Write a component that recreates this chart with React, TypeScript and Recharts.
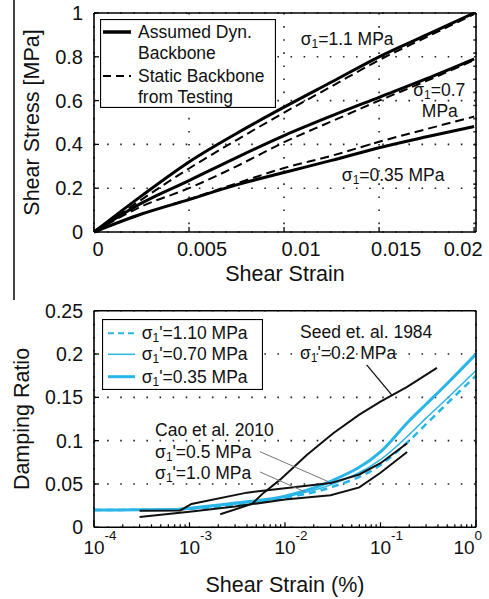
import React from 'react';
import { LineChart, Line, XAxis, YAxis, CartesianGrid, ReferenceDot, ReferenceLine, Legend } from 'recharts';

const FONT = '"Liberation Sans", Arial, Helvetica, sans-serif';
const INK = '#111';
const BLUE = '#29b5e8';

// ---------------- top chart data (shear strain vs shear stress, MPa) ----------------
const strainPts = [0, 0.0025, 0.005, 0.0075, 0.01, 0.0125, 0.015, 0.0175, 0.02];
const dynBackbone110 = [0, 0.165, 0.32, 0.45, 0.57, 0.685, 0.8, 0.9, 1.0];
const staticBackbone110 = [0, 0.148, 0.29, 0.42, 0.545, 0.665, 0.785, 0.89, 0.995];
const dynBackbone070 = [0, 0.132, 0.235, 0.34, 0.44, 0.53, 0.615, 0.7, 0.79];
const staticBackbone070 = [0, 0.117, 0.2, 0.3, 0.41, 0.505, 0.6, 0.69, 0.785];
const dynBackbone035 = [0, 0.082, 0.148, 0.215, 0.272, 0.327, 0.385, 0.435, 0.482];
const staticBackbone035 = [0, 0.082, 0.15, 0.222, 0.292, 0.348, 0.412, 0.47, 0.527];

const topXTicks = [0, 0.005, 0.01, 0.015, 0.02];
const topXTickLabels = ['0', '0.005', '0.01', '0.015', '0.02'];
const topYTicks = [0, 0.2, 0.4, 0.6, 0.8, 1];
const topYTickLabels = ['0', '0.2', '0.4', '0.6', '0.8', '1'];
const topLegendLines = [['Assumed Dyn.', 'Backbone'], ['Static Backbone', 'from Testing']];
const topNotes = [
  { x: 0.01088, y: 0.881, sigma: true, text: '=1.1 MPa' },
  { x: 0.0168, y: 0.65, sigma: true, text: '=0.7' },
  { x: 0.01725, y: 0.551, sigma: false, text: 'MPa' },
  { x: 0.01304, y: 0.262, sigma: true, text: '=0.35 MPa' },
];

// ---------------- bottom chart data (shear strain % vs damping ratio) ----------------
const blueStrain = [1e-4, 3e-4, 7e-4, 1e-3, 3e-3, 1e-2, 3e-2, 0.1, 0.2, 0.3, 0.5, 1];
const damping035 = [0.02, 0.0202, 0.0205, 0.022, 0.028, 0.036, 0.053, 0.087, 0.123, 0.142, 0.166, 0.2];
const damping070 = [0.02, 0.0202, 0.0205, 0.0215, 0.027, 0.035, 0.049, 0.078, 0.107, 0.126, 0.149, 0.181];
const damping110 = [0.02, 0.0202, 0.0205, 0.0213, 0.026, 0.034, 0.046, 0.072, 0.1, 0.119, 0.143, 0.175];

const caoStrainA = [3e-4, 8e-4, 1.05e-3, 4e-3, 1e-2, 0.03, 0.06, 0.1, 0.19];
const caoDampA = [0.019, 0.0195, 0.027, 0.04, 0.045, 0.051, 0.061, 0.074, 0.097];
const caoStrainB = [3e-4, 1e-3, 3e-3, 1e-2, 0.03, 0.06, 0.1, 0.19];
const caoDampB = [0.012, 0.018, 0.024, 0.032, 0.037, 0.046, 0.063, 0.087];
const seedStrain = [2.1e-3, 4.5e-3, 6e-3, 8.9e-3, 0.0169, 0.032, 0.06, 0.1, 0.19, 0.39];
const seedDamp = [0.015, 0.027, 0.04, 0.055, 0.0835, 0.1085, 0.13, 0.145, 0.162, 0.184];

const dampXTicks = [1e-4, 1e-3, 1e-2, 1e-1, 1];
const dampXExponents = ['-4', '-3', '-2', '-1', '0'];
const minorMultipliers = [2, 3, 4, 5, 6, 7, 8, 9];
const dampXAllTicks = [
  ...dampXTicks,
  ...dampXTicks.slice(0, 4).flatMap((d) => minorMultipliers.map((m) => d * m)),
].sort((a, b) => a - b);
const dampYTicks = [0, 0.05, 0.1, 0.15, 0.2, 0.25];
const dampYTickLabels = ['0', '0.05', '0.1', '0.15', '0.2', '0.25'];
const dampLegendLabels = ["'=1.10 MPa", "'=0.70 MPa", "'=0.35 MPa"];
const bottomNotes = [
  { x: 0.01436, y: 0.2259, sigma: false, text: 'Seed et. al. 1984' },
  { x: 0.01436, y: 0.2009, sigma: true, text: "'=0.2 MPa" },
  { x: 4.36e-4, y: 0.1124, sigma: false, text: 'Cao et al. 2010' },
  { x: 4.36e-4, y: 0.0873, sigma: true, text: "'=0.5 MPa" },
  { x: 4.36e-4, y: 0.0624, sigma: true, text: "'=1.0 MPa" },
];
const leaderSeed = [{ x: 0.0716, y: 0.1874 }, { x: 0.131, y: 0.1528 }];
const leaderCao05 = [{ x: 5.47e-3, y: 0.0873 }, { x: 0.0284, y: 0.0527 }];
const leaderCao10 = [{ x: 5.47e-3, y: 0.0639 }, { x: 0.0162, y: 0.0408 }];

const xy = (xs: number[], ys: number[]) => xs.map((x, i) => ({ x, y: ys[i] }));

// style-only constants
const TOP_X_LABEL_SHIFT = [4, 13, 17, 17, -11];
const AXIS_LINE = { stroke: '#000', strokeWidth: 1.6 };

function SigmaText({ x, y, rest, fs = 17.5 }: any) {
  return (
    <text x={x} y={y} fontFamily={FONT} fontSize={fs} fill={INK} dominantBaseline="central">
      σ
      <tspan fontSize={fs * 0.68} dy={5}>1</tspan>
      <tspan dy={-5}>{rest}</tspan>
    </text>
  );
}

function noteContent(n: any) {
  return (lp: any) => {
    const vb = lp.viewBox || {};
    return n.sigma ? (
      <SigmaText x={vb.x} y={vb.y} rest={n.text} />
    ) : (
      <text x={vb.x} y={vb.y} fontFamily={FONT} fontSize={17.5} fill={INK} dominantBaseline="central">
        {n.text}
      </text>
    );
  };
}

// ---------- tick renderers ----------
function TopXTick(p: any) {
  const { x, y, payload } = p;
  const i = topXTicks.findIndex((t) => Math.abs(t - payload.value) < 1e-9);
  return (
    <g>
      <line x1={x} x2={x} y1={y} y2={y - 5} stroke="#000" strokeWidth={1.3} />
      <text x={x + (TOP_X_LABEL_SHIFT[i] || 0)} y={y + 17} textAnchor="middle" dominantBaseline="central" fontFamily={FONT} fontSize={20} fill={INK}>
        {topXTickLabels[i]}
      </text>
    </g>
  );
}
function LeftYTick(labels: string[], ticks: number[], fs: number) {
  return (p: any) => {
    const { x, y, payload } = p;
    const i = ticks.findIndex((t) => Math.abs(t - payload.value) < 1e-9);
    return (
      <g>
        <line x1={x} x2={x + 5} y1={y} y2={y} stroke="#000" strokeWidth={1.3} />
        <text x={x - 11} y={y} textAnchor="end" dominantBaseline="central" fontFamily={FONT} fontSize={fs} fill={INK}>
          {labels[i]}
        </text>
      </g>
    );
  };
}
function RightYTick(p: any) {
  return <line x1={p.x} x2={p.x - 5} y1={p.y} y2={p.y} stroke="#000" strokeWidth={1.3} />;
}
function TopEdgeTick(len: (v: number) => number) {
  return (p: any) => <line x1={p.x} x2={p.x} y1={p.y} y2={p.y + len(p.payload.value)} stroke="#000" strokeWidth={1.2} />;
}
const majorIndex = (v: number) => dampXTicks.findIndex((t) => Math.abs(Math.log10(t) - Math.log10(v)) < 1e-6);
function DampXTick(p: any) {
  const { x, y, payload } = p;
  const i = majorIndex(payload.value);
  const major = i >= 0;
  const sx = i === dampXTicks.length - 1 ? -12 : 0;
  return (
    <g>
      <line x1={x} x2={x} y1={y} y2={y - (major ? 5 : 3)} stroke="#000" strokeWidth={1.2} />
      {major && (
        <text x={x + sx} y={y + 20.5} textAnchor="middle" dominantBaseline="central" fontFamily={FONT} fontSize={19} fill={INK}>
          10
        </text>
      )}
      {major && (
        <text x={x + sx + 10.5} y={y + 8.5} textAnchor="start" dominantBaseline="central" fontFamily={FONT} fontSize={13.5} fill={INK}>
          {dampXExponents[i]}
        </text>
      )}
    </g>
  );
}

function axisTitle(text: string, dx: number | null, dy: number | null, vertical: boolean) {
  return (lp: any) => {
    const vb = lp.viewBox || {};
    const cx = dx === null ? vb.x + vb.width / 2 : vb.x + dx;
    const cy = dy === null ? vb.y + vb.height / 2 : vb.y + dy;
    return (
      <text
        x={cx}
        y={cy}
        textAnchor="middle"
        dominantBaseline="central"
        fontFamily={FONT}
        fontSize={21.5}
        fill={INK}
        transform={vertical ? `rotate(-90, ${cx}, ${cy})` : undefined}
      >
        {text}
      </text>
    );
  };
}

function TopLegend() {
  const t = { fontFamily: FONT, fontSize: 17.5, fill: INK, dominantBaseline: 'central' as const };
  return (
    <svg width={176} height={89} style={{ display: 'block' }}>
      <rect x={0.5} y={0.5} width={175} height={88} fill="#fff" stroke="#000" strokeWidth={1.2} />
      <line x1={3} x2={31} y1={13} y2={13} stroke="#000" strokeWidth={3.5} />
      <text x={38} y={13} {...t}>{topLegendLines[0][0]}</text>
      <text x={38} y={34} {...t}>{topLegendLines[0][1]}</text>
      <line x1={3} x2={31} y1={57} y2={57} stroke="#000" strokeWidth={2} strokeDasharray="8 5" />
      <text x={38} y={57} {...t}>{topLegendLines[1][0]}</text>
      <text x={38} y={78} {...t}>{topLegendLines[1][1]}</text>
    </svg>
  );
}
function BottomLegend() {
  const rows = [14.3, 35.3, 57.7];
  const styles = [
    { strokeWidth: 2, strokeDasharray: '6 4' },
    { strokeWidth: 1.5 },
    { strokeWidth: 3 },
  ];
  return (
    <svg width={161} height={71} style={{ display: 'block' }}>
      <rect x={0.5} y={0.5} width={160} height={70} fill="#fff" stroke="#000" strokeWidth={1.2} />
      {rows.map((ry, k) => (
        <g key={k}>
          <line x1={6} x2={33} y1={ry} y2={ry} stroke={BLUE} {...styles[k]} />
          <SigmaText x={39.7} y={ry} rest={dampLegendLabels[k]} />
        </g>
      ))}
    </svg>
  );
}

const gridStyle = { stroke: '#222', strokeDasharray: '1.6 11.5', strokeWidth: 1.6 };

export default function App() {
  return (
    <div style={{ position: 'absolute', left: 0, top: 0, width: 489, height: 599, background: '#fff', overflow: 'hidden' }}>
      <div style={{ position: 'absolute', left: 13, top: 0, width: 1.5, height: 300, background: '#444' }} />

      <div style={{ position: 'absolute', left: 0, top: 0 }}>
        <LineChart width={489} height={300} margin={{ top: 12, right: 12, bottom: 0, left: 0 }}>
          <CartesianGrid {...gridStyle} fill="none" />
          <XAxis
            type="number"
            dataKey="x"
            domain={[0, 0.0201]}
            allowDataOverflow
            ticks={topXTicks}
            interval={0}
            height={68}
            tickSize={0}
            tickMargin={0}
            tickLine={false}
            axisLine={AXIS_LINE}
            tick={TopXTick}
            label={{ content: axisTitle('Shear Strain', null, 42, false) }}
          />
          <XAxis
            xAxisId="top"
            orientation="top"
            type="number"
            domain={[0, 0.0201]}
            allowDataOverflow
            ticks={topXTicks}
            interval={0}
            height={1}
            tickSize={0}
            tickMargin={0}
            tickLine={false}
            axisLine={AXIS_LINE}
            tick={TopEdgeTick(() => 5)}
          />
          <YAxis
            type="number"
            domain={[0, 1]}
            ticks={topYTicks}
            interval={0}
            width={94}
            tickSize={0}
            tickMargin={0}
            tickLine={false}
            axisLine={AXIS_LINE}
            tick={LeftYTick(topYTickLabels, topYTicks, 20)}
            label={{ content: axisTitle('Shear Stress [MPa]', 32, null, true) }}
          />
          <YAxis
            yAxisId="right"
            orientation="right"
            type="number"
            domain={[0, 1]}
            ticks={topYTicks}
            interval={0}
            width={1}
            tickSize={0}
            tickMargin={0}
            tickLine={false}
            axisLine={AXIS_LINE}
            tick={RightYTick}
          />
          <Line data={xy(strainPts, staticBackbone110)} dataKey="y" type="monotone" dot={false} stroke="#000" strokeWidth={2} strokeDasharray="9 5" isAnimationActive={false} />
          <Line data={xy(strainPts, staticBackbone070)} dataKey="y" type="monotone" dot={false} stroke="#000" strokeWidth={2} strokeDasharray="9 5" isAnimationActive={false} />
          <Line data={xy(strainPts, staticBackbone035)} dataKey="y" type="monotone" dot={false} stroke="#000" strokeWidth={2} strokeDasharray="9 5" isAnimationActive={false} />
          <Line data={xy(strainPts, dynBackbone110)} dataKey="y" type="monotone" dot={false} stroke="#000" strokeWidth={3} isAnimationActive={false} />
          <Line data={xy(strainPts, dynBackbone070)} dataKey="y" type="monotone" dot={false} stroke="#000" strokeWidth={3} isAnimationActive={false} />
          <Line data={xy(strainPts, dynBackbone035)} dataKey="y" type="monotone" dot={false} stroke="#000" strokeWidth={3} isAnimationActive={false} />
          {topNotes.map((n, k) => (
            <ReferenceDot key={k} x={n.x} y={n.y} r={0} fill="none" stroke="none" label={{ content: noteContent(n) }} />
          ))}
          <Legend
            layout="vertical"
            align="center"
            verticalAlign="middle"
            content={() => <TopLegend />}
            wrapperStyle={{ position: 'absolute', left: 100, top: 19, width: 176, height: 89, margin: 0, padding: 0 }}
          />
        </LineChart>
      </div>

      <div style={{ position: 'absolute', left: 0, top: 300 }}>
        <LineChart width={489} height={299} margin={{ top: 9.7, right: 12, bottom: 0, left: 0 }}>
          <XAxis xAxisId="grid" hide type="number" scale="log" domain={[1e-4, 1]} allowDataOverflow ticks={dampXTicks} interval={0} />
          <CartesianGrid {...gridStyle} fill="none" xAxisId="grid" />
          <XAxis
            type="number"
            dataKey="x"
            scale="log"
            domain={[1e-4, 1]}
            allowDataOverflow
            ticks={dampXAllTicks}
            interval={0}
            height={71.7}
            tickSize={0}
            tickMargin={0}
            tickLine={false}
            axisLine={AXIS_LINE}
            tick={DampXTick}
            label={{ content: axisTitle('Shear Strain (%)', null, 57.7, false) }}
          />
          <XAxis
            xAxisId="top"
            orientation="top"
            type="number"
            scale="log"
            domain={[1e-4, 1]}
            allowDataOverflow
            ticks={dampXAllTicks}
            interval={0}
            height={1}
            tickSize={0}
            tickMargin={0}
            tickLine={false}
            axisLine={AXIS_LINE}
            tick={TopEdgeTick((v) => (majorIndex(v) >= 0 ? 5 : 3))}
          />
          <YAxis
            type="number"
            domain={[0, 0.25]}
            ticks={dampYTicks}
            interval={0}
            width={94}
            tickSize={0}
            tickMargin={0}
            tickLine={false}
            axisLine={AXIS_LINE}
            tick={LeftYTick(dampYTickLabels, dampYTicks, 19.5)}
            label={{ content: axisTitle('Damping Ratio', 22, null, true) }}
          />
          <YAxis
            yAxisId="right"
            orientation="right"
            type="number"
            domain={[0, 0.25]}
            ticks={dampYTicks}
            interval={0}
            width={1}
            tickSize={0}
            tickMargin={0}
            tickLine={false}
            axisLine={AXIS_LINE}
            tick={RightYTick}
          />
          <Line data={xy(blueStrain, damping110)} dataKey="y" type="monotone" dot={false} stroke={BLUE} strokeWidth={2.5} strokeDasharray="7 5" isAnimationActive={false} />
          <Line data={xy(blueStrain, damping070)} dataKey="y" type="monotone" dot={false} stroke={BLUE} strokeWidth={1.5} isAnimationActive={false} />
          <Line data={xy(blueStrain, damping035)} dataKey="y" type="monotone" dot={false} stroke={BLUE} strokeWidth={3} isAnimationActive={false} />
          <Line data={xy(caoStrainA, caoDampA)} dataKey="y" type="linear" dot={false} stroke={INK} strokeWidth={2} isAnimationActive={false} />
          <Line data={xy(caoStrainB, caoDampB)} dataKey="y" type="linear" dot={false} stroke={INK} strokeWidth={2} isAnimationActive={false} />
          <Line data={xy(seedStrain, seedDamp)} dataKey="y" type="linear" dot={false} stroke={INK} strokeWidth={2} isAnimationActive={false} />
          <ReferenceLine segment={leaderSeed} stroke={INK} strokeWidth={1.3} />
          <ReferenceLine segment={leaderCao05} stroke="#777" strokeWidth={1} />
          <ReferenceLine segment={leaderCao10} stroke="#777" strokeWidth={1} />
          {bottomNotes.map((n, k) => (
            <ReferenceDot key={k} x={n.x} y={n.y} r={0} fill="none" stroke="none" label={{ content: noteContent(n) }} />
          ))}
          <Legend
            layout="vertical"
            align="center"
            verticalAlign="middle"
            content={() => <BottomLegend />}
            wrapperStyle={{ position: 'absolute', left: 102, top: 19, width: 161, height: 71, margin: 0, padding: 0 }}
          />
        </LineChart>
      </div>
    </div>
  );
}
